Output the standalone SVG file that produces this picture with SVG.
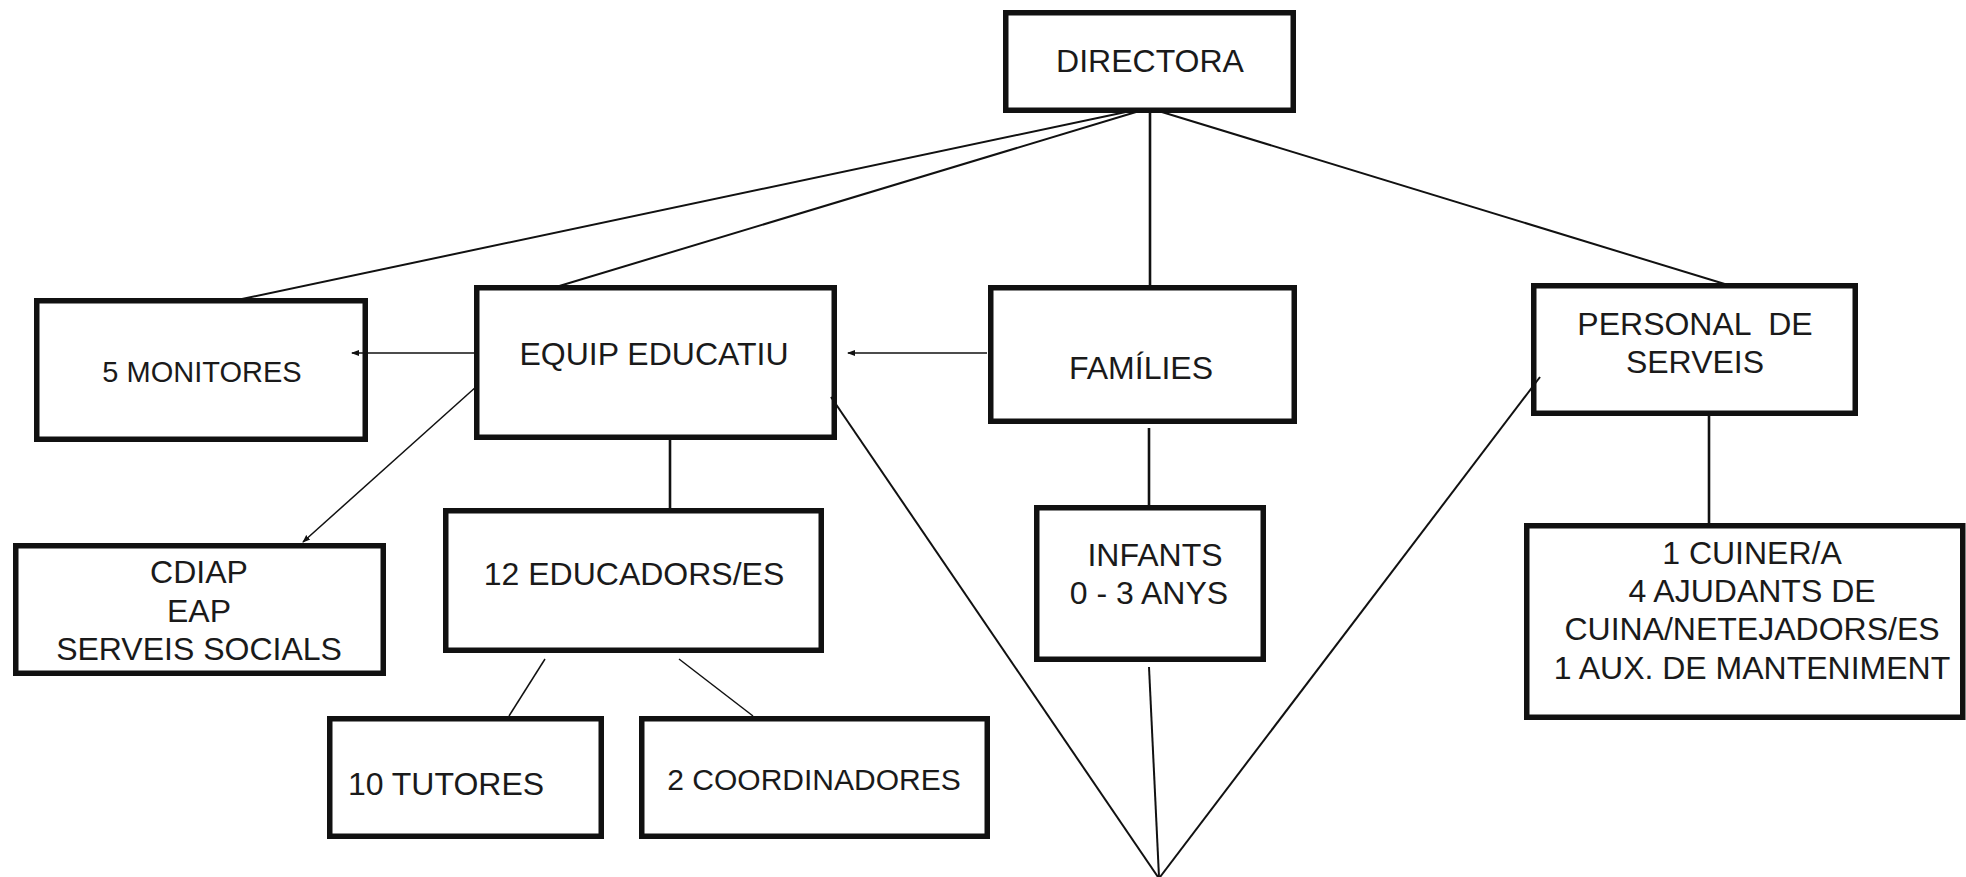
<svg xmlns="http://www.w3.org/2000/svg" width="1966" height="877" viewBox="0 0 1966 877">
<style>
.box{fill:#fff;stroke:#111;stroke-width:5.5}
.t{font-family:"Liberation Sans",Arial,sans-serif;font-size:32px;fill:#1a1a1a;text-anchor:middle;white-space:pre}
.c{stroke:#111;fill:none}
.w2{stroke-width:2}
.w25{stroke-width:2.6}
.w15{stroke-width:1.5}
</style>
<defs>
<marker id="ah" viewBox="0 0 8 8" refX="7" refY="4" markerWidth="8" markerHeight="8" markerUnits="userSpaceOnUse" orient="auto">
<path d="M0,1 L8,4 L0,7 Z" fill="#111"/>
</marker>
</defs>
<rect width="1966" height="877" fill="#fff"/>
<g id="directora">
<rect class="box" x="1005.75" y="12.75" width="287.5" height="97.5"/>
<text class="t" x="1150" y="72">DIRECTORA</text>
</g>
<g id="monitores">
<rect class="box" x="36.75" y="300.75" width="328.5" height="138.5"/>
<text class="t" x="202" y="382" style="font-size:29px">5 MONITORES</text>
</g>
<g id="equip">
<rect class="box" x="476.75" y="287.75" width="357.5" height="149.5"/>
<text class="t" x="654" y="365">EQUIP EDUCATIU</text>
</g>
<g id="families">
<rect class="box" x="990.75" y="287.75" width="303.5" height="133.5"/>
<text class="t" x="1141" y="379">FAMÍLIES</text>
</g>
<g id="personal">
<rect class="box" x="1533.75" y="285.75" width="321.5" height="127.5"/>
<text class="t" x="1695" y="335">PERSONAL  DE</text>
<text class="t" x="1695" y="373">SERVEIS</text>
</g>
<g id="cdiap">
<rect class="box" x="15.75" y="545.75" width="367.5" height="127.5"/>
<text class="t" x="199" y="583">CDIAP</text>
<text class="t" x="199" y="622">EAP</text>
<text class="t" x="199" y="660">SERVEIS SOCIALS</text>
</g>
<g id="educadors">
<rect class="box" x="445.75" y="510.75" width="375.5" height="139.5"/>
<text class="t" x="634" y="585">12 EDUCADORS/ES</text>
</g>
<g id="infants">
<rect class="box" x="1036.75" y="507.75" width="226.5" height="151.5"/>
<text class="t" x="1155" y="566">INFANTS</text>
<text class="t" x="1149" y="604">0 - 3 ANYS</text>
</g>
<g id="serveis">
<rect class="box" x="1526.75" y="525.75" width="436" height="191.5"/>
<text class="t" x="1752" y="564">1 CUINER/A</text>
<text class="t" x="1752" y="602">4 AJUDANTS DE</text>
<text class="t" x="1752" y="640">CUINA/NETEJADORS/ES</text>
<text class="t" x="1752" y="679">1 AUX. DE MANTENIMENT</text>
</g>
<g id="tutores">
<rect class="box" x="329.75" y="718.75" width="271.5" height="117.5"/>
<text class="t" x="446" y="795">10 TUTORES</text>
</g>
<g id="coordinadores">
<rect class="box" x="641.75" y="718.75" width="345.5" height="117.5"/>
<text class="t" x="814" y="790" style="font-size:30px">2 COORDINADORES</text>
</g>
<g id="connectors">
<line class="c w2" x1="1140" y1="109" x2="242" y2="299"/>
<line class="c w2" x1="1146" y1="109" x2="556" y2="287"/>
<line class="c w25" x1="1150" y1="110" x2="1150" y2="286"/>
<line class="c w2" x1="1152" y1="109" x2="1728" y2="285"/>
<line class="c w15" x1="987" y1="353" x2="848" y2="353" marker-end="url(#ah)"/>
<line class="c w15" x1="474" y1="353" x2="352" y2="353" marker-end="url(#ah)"/>
<line class="c w15" x1="477" y1="386" x2="303" y2="542" marker-end="url(#ah)"/>
<line class="c w25" x1="670" y1="440" x2="670" y2="509"/>
<line class="c w15" x1="545" y1="659" x2="509" y2="716"/>
<line class="c w15" x1="679" y1="659" x2="753" y2="716"/>
<line class="c w25" x1="1149" y1="428" x2="1149" y2="506"/>
<line class="c w25" x1="1709" y1="416" x2="1709" y2="524"/>
<line class="c w2" x1="831" y1="397" x2="1158" y2="877"/>
<line class="c w2" x1="1149" y1="667" x2="1159" y2="877"/>
<line class="c w2" x1="1540" y1="377" x2="1160" y2="877"/>
</g>
</svg>
